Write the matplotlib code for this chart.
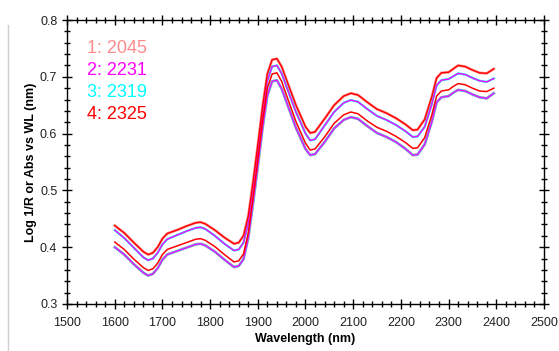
import matplotlib.pyplot as plt
from matplotlib.ticker import MultipleLocator
from matplotlib.lines import Line2D

plt.rcParams['font.family'] = ['Liberation Sans', 'DejaVu Sans']

# wavelength grid (nm)
wl = [1600, 1620, 1640, 1660, 1670, 1680, 1690, 1700, 1710, 1730, 1750, 1770,
      1780, 1790, 1810, 1830, 1850, 1860, 1870, 1880, 1890, 1900, 1910, 1920,
      1930, 1940, 1950, 1960, 1980, 2000, 2010, 2020, 2040, 2060, 2080, 2095,
      2110, 2130, 2150, 2170, 2190, 2210, 2225, 2235, 2250, 2265, 2275, 2285,
      2300, 2310, 2320, 2335, 2350, 2365, 2380, 2395]

# four visible spectra, top to bottom
upper_a = [0.438, 0.425, 0.408, 0.392, 0.387, 0.390, 0.400, 0.415, 0.424, 0.430,
           0.437, 0.443, 0.444, 0.441, 0.430, 0.417, 0.406, 0.408, 0.420, 0.455,
           0.515, 0.580, 0.648, 0.705, 0.730, 0.732, 0.718, 0.695, 0.650, 0.612,
           0.601, 0.603, 0.626, 0.650, 0.666, 0.671, 0.668, 0.655, 0.643, 0.636,
           0.627, 0.616, 0.606, 0.607, 0.625, 0.665, 0.698, 0.707, 0.708, 0.714,
           0.720, 0.718, 0.712, 0.707, 0.706, 0.714]
upper_b = [0.430, 0.416, 0.399, 0.382, 0.377, 0.380, 0.390, 0.405, 0.414, 0.421,
           0.428, 0.434, 0.435, 0.432, 0.420, 0.406, 0.394, 0.396, 0.408, 0.443,
           0.503, 0.568, 0.636, 0.693, 0.718, 0.720, 0.706, 0.683, 0.638, 0.600,
           0.588, 0.590, 0.614, 0.638, 0.654, 0.659, 0.656, 0.643, 0.631, 0.624,
           0.615, 0.604, 0.594, 0.595, 0.612, 0.652, 0.685, 0.694, 0.696, 0.701,
           0.706, 0.704, 0.698, 0.693, 0.691, 0.697]
lower_a = [0.409, 0.396, 0.379, 0.364, 0.359, 0.362, 0.372, 0.387, 0.396, 0.402,
           0.408, 0.414, 0.415, 0.412, 0.401, 0.387, 0.374, 0.376, 0.388, 0.425,
           0.487, 0.553, 0.622, 0.680, 0.705, 0.707, 0.692, 0.668, 0.621, 0.583,
           0.571, 0.573, 0.594, 0.618, 0.633, 0.638, 0.635, 0.622, 0.611, 0.604,
           0.595, 0.584, 0.574, 0.575, 0.593, 0.633, 0.666, 0.675, 0.677, 0.683,
           0.688, 0.686, 0.680, 0.675, 0.674, 0.680]
lower_b = [0.400, 0.387, 0.370, 0.355, 0.350, 0.353, 0.363, 0.378, 0.387, 0.393,
           0.399, 0.405, 0.406, 0.403, 0.392, 0.378, 0.365, 0.367, 0.379, 0.416,
           0.477, 0.542, 0.610, 0.667, 0.692, 0.694, 0.679, 0.656, 0.610, 0.573,
           0.562, 0.564, 0.585, 0.609, 0.624, 0.629, 0.626, 0.613, 0.601, 0.594,
           0.585, 0.573, 0.562, 0.563, 0.581, 0.621, 0.655, 0.664, 0.666, 0.672,
           0.677, 0.675, 0.669, 0.664, 0.662, 0.671]

labels = ['1: 2045', '2: 2231', '3: 2319', '4: 2325']
colors = ['#ff8c8c', '#ff00ff', '#00ffff', '#ff0000']

fig = plt.figure(figsize=(5.59, 3.51), dpi=100)
ax = fig.add_axes([0.120, 0.134, 0.853, 0.809])

# under-layers (halo colours), then the main lines on top
ax.plot(wl, upper_a, color=colors[0], lw=1.9)
ax.plot(wl, lower_b, color=colors[0], lw=2.0)
ax.plot(wl, upper_b, color=colors[2], lw=1.6)
ax.plot(wl, lower_b, color=colors[2], lw=1.6)
ax.plot(wl, upper_b, color=colors[1], lw=1.0)
ax.plot(wl, lower_b, color=colors[1], lw=1.0)
ax.plot(wl, upper_a, color=colors[3], lw=1.0)
ax.plot(wl, lower_a, color=colors[3], lw=1.1)

for i, (lab, c) in enumerate(zip(labels, colors)):
    ax.text(0.042, 0.898 - i * 0.077, lab, color=c, fontsize=13,
            transform=ax.transAxes, va='center', ha='left')

ax.set_xlim(1500, 2500)
ax.set_ylim(0.3, 0.8)
ax.xaxis.set_major_locator(MultipleLocator(100))
ax.xaxis.set_minor_locator(MultipleLocator(20))
ax.yaxis.set_major_locator(MultipleLocator(0.1))
ax.yaxis.set_minor_locator(MultipleLocator(0.02))
ax.yaxis.set_major_formatter(plt.FormatStrFormatter('%.1f'))
ax.tick_params(which='both', direction='inout', top=True, right=True,
               labelsize=9, color='black', width=1, labelcolor='#222222')
ax.tick_params(which='major', length=7)
ax.tick_params(axis='x', which='major', pad=6)
ax.tick_params(which='minor', length=4)
for s in ax.spines.values():
    s.set_linewidth(1)

ax.set_xlabel('Wavelength (nm)', fontsize=9, fontweight='bold', labelpad=3)
ax.set_ylabel('Log 1/R or Abs vs WL (nm)', fontsize=9, fontweight='bold', labelpad=2)

fig.add_artist(Line2D([0.014, 0.014], [0.0, 0.93], color='#d0d0d0', lw=1))

fig.savefig('out.png', dpi=100)
